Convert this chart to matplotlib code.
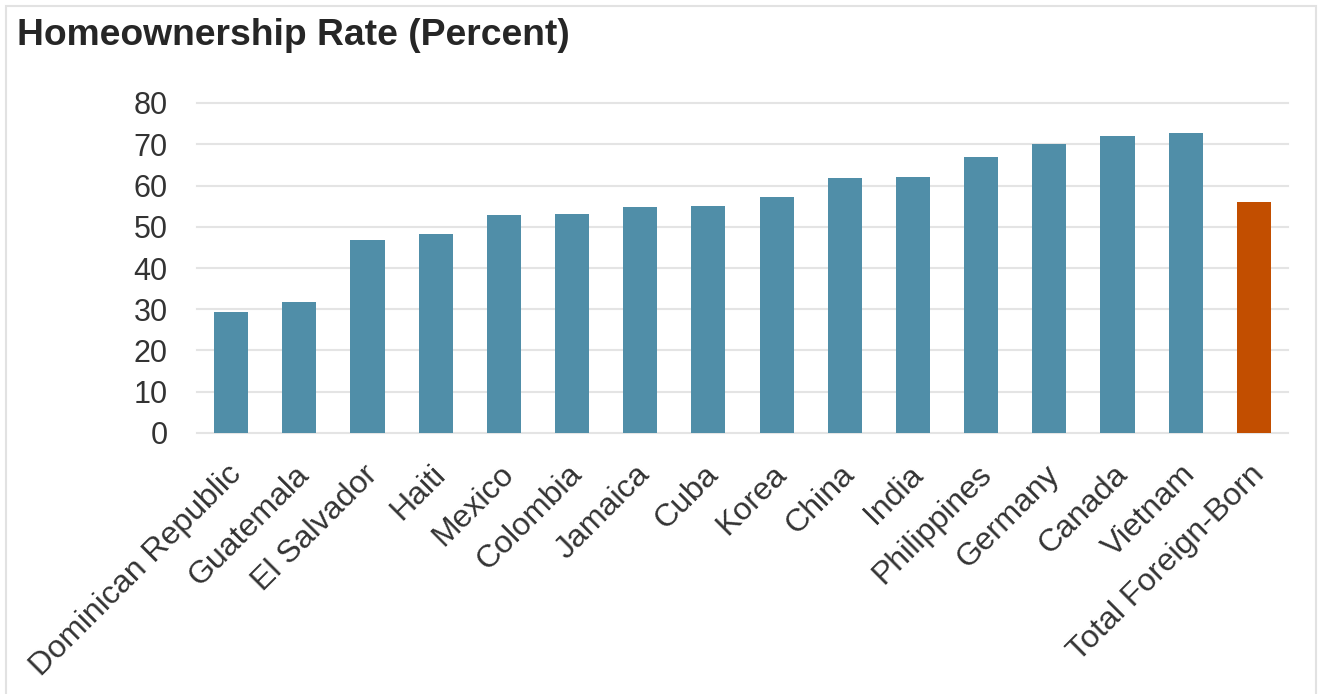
import matplotlib.pyplot as plt
import matplotlib.transforms as mtransforms
from matplotlib.patches import Rectangle

# Données
pays = ["Dominican Republic", "Guatemala", "El Salvador", "Haiti", "Mexico",
        "Colombia", "Jamaica", "Cuba", "Korea", "China", "India",
        "Philippines", "Germany", "Canada", "Vietnam", "Total Foreign-Born"]
taux = [29.3, 31.7, 46.8, 48.2, 52.8, 53.0, 54.8, 55.1, 57.3, 61.8,
        62.1, 66.9, 70.0, 72.1, 72.7, 56.0]
couleurs = ["#508EA8"] * 15 + ["#C24E00"]
graduations = [0, 10, 20, 30, 40, 50, 60, 70, 80]

plt.rcParams['font.family'] = ['Liberation Sans', 'DejaVu Sans']
texte = "#333333"

fig = plt.figure(figsize=(13.2, 6.94), dpi=100)
ax = fig.add_axes([197 / 1320, 1 - 433 / 694, (1288 - 197) / 1320, (433 - 103) / 694])

x = range(len(pays))
ax.bar(x, taux, width=0.5, color=couleurs, zorder=3)

ax.set_xlim(-0.5, len(pays) - 0.5)
ax.set_ylim(0, 80)
ax.set_yticks(graduations)
ax.set_yticklabels([str(v) for v in graduations], fontsize=22, color=texte)
ax.tick_params(axis='y', length=0, pad=21)
ax.tick_params(axis='x', length=0, pad=19)
ax.grid(axis='y', color="#E4E4E4", linewidth=1.5, zorder=0)
for ligne in ax.get_ygridlines():
    ligne.set_clip_on(False)
for s in ax.spines.values():
    s.set_visible(False)

ax.set_xticks(list(x))
ax.set_xticklabels(pays, fontsize=23, color=texte, rotation=45,
                   ha='right', va='top', rotation_mode='anchor')
decal = mtransforms.ScaledTranslation(-5 / 100, 0, fig.dpi_scale_trans)
for lab in ax.get_xticklabels():
    lab.set_transform(lab.get_transform() + decal)

fig.text(17 / 1320, 1 - 45 / 694, "Homeownership Rate (Percent)", fontsize=26.8,
         fontweight='bold', color="#262626", ha='left', va='baseline')

# Cadre gris clair autour du graphique
fig.patches.append(Rectangle((6 / 1320, -0.02), (1316 - 6) / 1320, 1.02 - 6 / 694,
                             transform=fig.transFigure, fill=False,
                             edgecolor="#E2E2E2", linewidth=1.5))

plt.savefig("out.png", dpi=100)
